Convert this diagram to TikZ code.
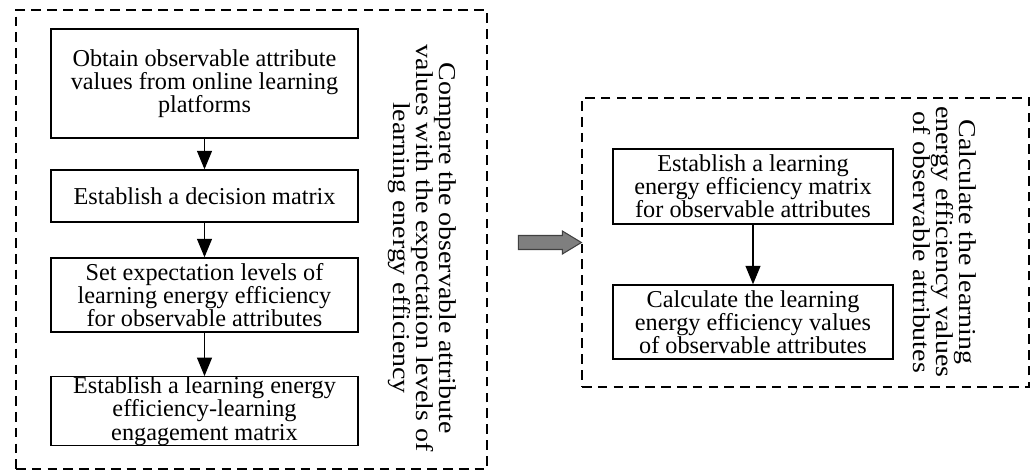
\documentclass[tikz,border=0pt]{standalone}
\usepackage{fontspec}
\setmainfont{Liberation Serif}
\usepackage{xcolor}
\usepackage{tikz}
\usetikzlibrary{positioning,arrows.meta,calc}
\definecolor{gray1}{HTML}{7F7F7F}
\definecolor{gray2}{HTML}{404040}

\begin{document}
\begin{tikzpicture}[
    >=Triangle,
    stepbox/.style={draw, line width=0.8pt, align=center,
                  minimum width=6.14cm, inner sep=0pt,
                  font=\fontsize{13.8}{13.2}\selectfont},
    frame/.style={draw, line width=0.7pt, dash pattern=on 5.5pt off 3.5pt,
                  inner sep=0pt},
    sidelbl/.style={rotate=-90, xscale=1.15, align=center, inner sep=0pt,
                  font=\fontsize{13.8}{13}\selectfont},
    trans/.style={-{Triangle[length=0.37cm,width=0.3cm]}, line width=0.7pt},
    blockarr/.style={fill=gray1, draw=gray2, line width=0.6pt},
]
\useasboundingbox (0,0) rectangle (20.7,-9.46);

% left part
\node[frame, minimum width=9.42cm, minimum height=9.18cm]
    (lft) at (5.03,-4.79) {};
\node[stepbox, minimum height=2.18cm]
    (obtain) at (4.09,-1.67) {Obtain observable attribute\\values from online learning\\platforms};
\node[stepbox, minimum height=1.04cm]
    (decis) at (4.09,-3.92) {Establish a decision matrix};
\node[stepbox, minimum height=1.48cm]
    (expect) at (4.09,-5.90) {Set expectation levels of\\learning energy efficiency\\for observable attributes};
\node[stepbox, minimum height=1.36cm]
    (engage) at (4.09,-8.22) {Establish a learning energy\\efficiency-learning\\engagement matrix};
\node[sidelbl]
    (cmplbl) at (8.44,-4.96) {Compare the observable attribute\\values with the expectation levels of\\learning energy efficiency};

% right part
\node[frame, minimum width=8.94cm, minimum height=5.78cm]
    (rgt) at (16.11,-4.85) {};
\node[stepbox, minimum width=5.6cm, minimum height=1.5cm]
    (effmat) at (15.06,-3.73) {Establish a learning\\energy efficiency matrix\\for observable attributes};
\node[stepbox, minimum width=5.6cm, minimum height=1.48cm]
    (effval) at (15.06,-6.44) {Calculate the learning\\energy efficiency values\\of observable attributes};
\node[sidelbl]
    (calclbl) at (18.9,-4.84) {Calculate the learning\\energy efficiency values\\of observable attributes};

\draw[trans] (obtain) -- (decis);
\draw[trans] (decis) -- (expect);
\draw[trans] (expect) -- (engage);
\draw[trans] (effmat) -- (effval);

% block arrow between the two parts
\draw[blockarr] (rgt.west) -- ++(-0.38,0.23) -- ++(0,-0.09) -- ++(-0.88,0)
    -- ++(0,-0.28) -- ++(0.88,0) -- ++(0,-0.09) -- cycle;
\end{tikzpicture}
\end{document}
